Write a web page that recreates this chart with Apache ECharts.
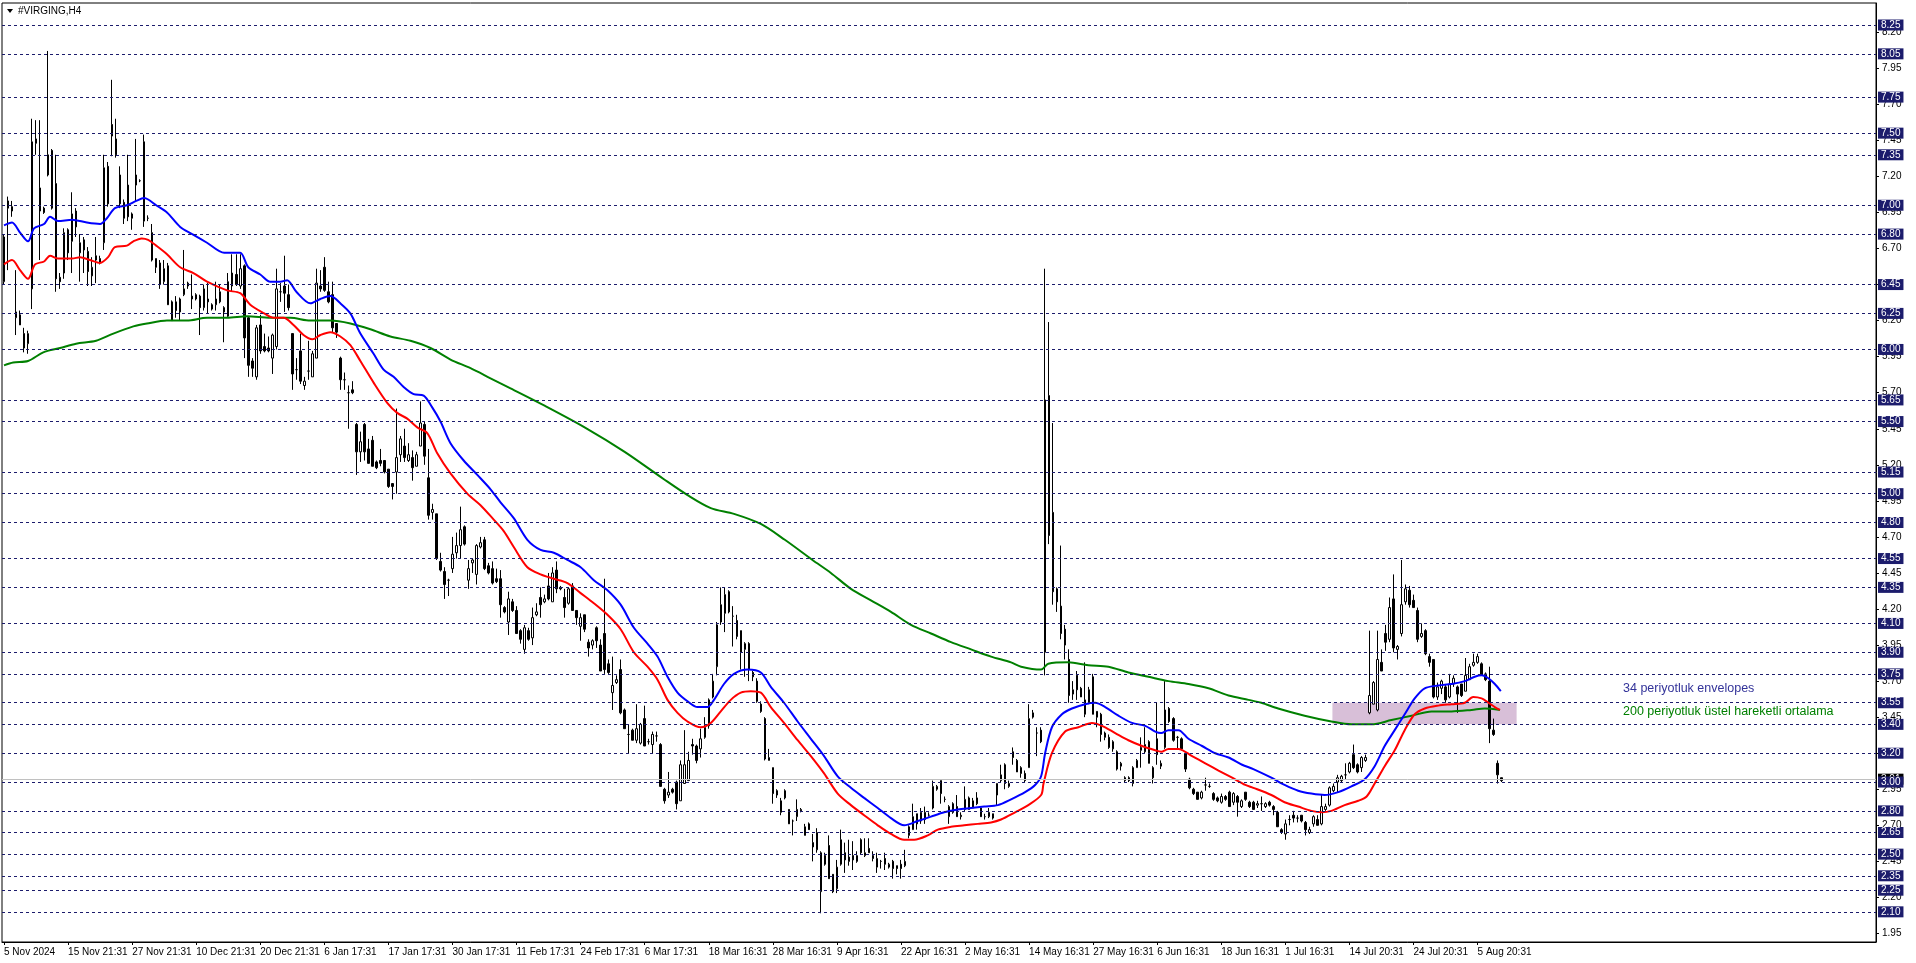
<!DOCTYPE html>
<html><head><meta charset="utf-8">
<script src="https://cdn.jsdelivr.net/npm/echarts@6/dist/echarts.min.js"></script>
<style>html,body{margin:0;padding:0;background:#fff}#c{width:1916px;height:963px}</style>
</head><body><div id="c"></div>
<script>
// ---------- DATA ----------
const title = '#VIRGING,H4';
const tickLabels = ['5 Nov 2024','15 Nov 21:31','27 Nov 21:31','10 Dec 21:31','20 Dec 21:31','6 Jan 17:31','17 Jan 17:31','30 Jan 17:31','11 Feb 17:31','24 Feb 17:31','6 Mar 17:31','18 Mar 16:31','28 Mar 16:31','9 Apr 16:31','22 Apr 16:31','2 May 16:31','14 May 16:31','27 May 16:31','6 Jun 16:31','18 Jun 16:31','1 Jul 16:31','14 Jul 20:31','24 Jul 20:31','5 Aug 20:31'];
const barsPerLabel = 16;
// [open, close, low, high]
const candles = [
[6.47,6.78,6.45,6.80],[7.03,6.98,6.55,7.06],[6.99,6.96,6.92,7.03],[6.22,6.26,6.10,6.55],[6.24,6.17,6.17,6.27],
[6.11,6.01,5.98,6.15],[6.04,6.11,5.97,6.13],[6.42,7.44,6.28,7.60],[7.46,7.43,7.35,7.59],[7.12,6.96,6.62,7.59],
[6.98,6.95,6.94,6.99],[7.21,7.35,7.20,8.07],[7.38,6.98,6.97,7.39],[7.15,6.49,6.40,7.35],[6.50,6.47,6.42,6.53],
[6.53,6.81,6.49,6.84],[6.83,6.67,6.62,6.84],[6.75,6.94,6.53,7.09],[6.96,6.85,6.78,6.98],[6.67,6.74,6.47,6.80],
[6.76,6.69,6.53,6.78],[6.68,6.54,6.44,6.71],[6.51,6.57,6.44,6.64],[6.62,6.65,6.46,6.78],[6.63,6.60,6.59,6.65],
[6.74,7.26,6.69,7.35],[7.27,7.01,6.99,7.30],[7.56,7.48,7.34,7.87],[7.46,7.35,7.33,7.60],[7.21,7.01,6.98,7.27],
[7.02,6.91,6.87,7.04],[7.14,6.92,6.89,7.35],[6.94,6.91,6.83,6.95],[7.14,7.21,7.03,7.46],[7.17,7.17,7.16,7.18],
[7.44,6.89,6.85,7.49],[6.91,6.91,6.89,6.93],[6.81,6.62,6.61,6.87],[6.63,6.57,6.53,6.63],[6.60,6.45,6.42,6.62],
[6.47,6.56,6.45,6.62],[6.58,6.31,6.31,6.60],[6.33,6.20,6.20,6.34],[6.33,6.27,6.22,6.37],[6.26,6.35,6.20,6.36],
[6.38,6.42,6.37,6.69],[6.44,6.46,6.42,6.47],[6.37,6.35,6.28,6.52],[6.35,6.38,6.34,6.39],[6.37,6.29,6.10,6.38],
[6.29,6.42,6.27,6.45],[6.35,6.33,6.25,6.46],[6.31,6.28,6.27,6.32],[6.31,6.35,6.27,6.47],[6.33,6.40,6.32,6.45],
[6.29,6.26,6.05,6.30],[6.23,6.47,6.22,6.53],[6.44,6.53,6.40,6.66],[6.52,6.45,6.44,6.66],[6.44,6.56,6.42,6.66],
[6.58,6.08,5.94,6.59],[6.22,5.89,5.81,6.23],[5.92,5.87,5.81,5.94],[5.81,6.15,5.79,6.17],[6.17,5.99,5.97,6.24],
[6.02,5.99,5.98,6.11],[6.01,5.99,5.98,6.09],[5.94,6.10,5.83,6.11],[6.02,6.42,6.00,6.56],[6.40,6.40,6.33,6.46],
[6.44,6.39,6.26,6.65],[6.38,6.29,6.27,6.45],[6.11,5.83,5.72,6.11],[5.86,5.86,5.79,5.94],[5.99,5.78,5.76,6.11],
[5.75,5.78,5.72,5.81],[5.85,5.85,5.79,6.06],[5.81,5.97,5.81,5.99],[5.94,6.46,5.94,6.56],[6.44,6.42,6.40,6.55],
[6.57,6.41,6.40,6.64],[6.40,6.33,6.32,6.47],[6.38,6.15,6.12,6.47],[6.18,6.12,6.08,6.18],[5.94,5.79,5.72,5.95],
[5.79,5.79,5.72,5.84],[5.70,5.70,5.45,5.75],[5.72,5.70,5.69,5.78],[5.48,5.29,5.13,5.49],[5.29,5.36,5.22,5.43],
[5.48,5.29,5.23,5.49],[5.31,5.21,5.21,5.38],[5.37,5.19,5.19,5.40],[5.22,5.18,5.17,5.23],[5.23,5.21,5.19,5.31],
[5.23,5.15,5.14,5.23],[5.17,5.05,5.04,5.17],[5.07,5.05,4.96,5.07],[5.15,5.25,5.00,5.59],[5.27,5.38,5.22,5.40],
[5.33,5.25,5.22,5.45],[5.23,5.27,5.22,5.35],[5.25,5.18,5.09,5.30],[5.19,5.27,5.19,5.29],[5.33,5.49,5.33,5.64],
[5.48,5.26,5.20,5.50],[5.11,4.85,4.82,5.31],[4.87,4.89,4.82,4.93],[4.86,4.55,4.54,4.86],[4.53,4.47,4.46,4.59],
[4.46,4.37,4.27,4.49],[4.40,4.40,4.29,4.41],[4.48,4.58,4.45,4.70],[4.59,4.64,4.55,4.73],[4.64,4.75,4.55,4.91],
[4.77,4.65,4.64,4.78],[4.40,4.48,4.34,4.54],[4.52,4.54,4.45,4.55],[4.44,4.64,4.37,4.65],[4.63,4.66,4.62,4.70],
[4.68,4.48,4.47,4.70],[4.50,4.45,4.44,4.52],[4.48,4.38,4.37,4.53],[4.41,4.39,4.38,4.48],[4.41,4.23,4.14,4.47],
[4.21,4.18,4.17,4.22],[4.11,4.27,4.02,4.32],[4.25,4.19,4.18,4.27],[4.19,4.03,4.03,4.22],[4.05,3.99,3.96,4.06],
[3.92,4.07,3.89,4.09],[4.05,3.99,3.98,4.07],[4.00,4.14,3.95,4.21],[4.16,4.18,4.15,4.24],[4.28,4.23,4.14,4.35],
[4.25,4.27,4.24,4.30],[4.36,4.27,4.26,4.45],[4.25,4.45,4.25,4.49],[4.47,4.34,4.31,4.53],[4.35,4.34,4.33,4.36],
[4.28,4.21,4.14,4.34],[4.24,4.34,4.23,4.35],[4.36,4.19,4.19,4.38],[4.19,4.14,4.09,4.19],[4.08,4.14,3.98,4.17],
[4.16,4.06,4.04,4.16],[3.97,3.93,3.87,3.99],[3.95,3.98,3.92,3.99],[4.07,3.98,3.93,4.08],[3.95,3.77,3.77,3.99],
[4.03,3.78,3.75,4.41],[3.82,3.76,3.75,3.85],[3.62,3.67,3.50,3.87],[3.69,3.71,3.68,3.74],[3.78,3.48,3.47,3.85],
[3.50,3.37,3.37,3.51],[3.33,3.33,3.20,3.40],[3.36,3.29,3.29,3.37],[3.29,3.37,3.27,3.54],[3.27,3.40,3.26,3.41],
[3.44,3.25,3.25,3.53],[3.28,3.28,3.26,3.30],[3.26,3.33,3.20,3.35],[3.32,3.32,3.28,3.35],[3.26,2.97,2.97,3.27],
[2.95,2.87,2.85,2.96],[2.91,2.93,2.89,3.07],[2.95,2.93,2.92,2.96],[3.00,2.85,2.81,3.01],[2.87,3.12,2.87,3.15],
[2.99,3.12,2.99,3.36],[3.01,3.15,3.01,3.21],[3.26,3.25,3.19,3.30],[3.25,3.15,3.13,3.26],[3.23,3.30,3.17,3.37],
[3.31,3.38,3.30,3.45],[3.39,3.57,3.37,3.58],[3.59,3.70,3.58,3.75],[3.80,4.09,3.74,4.11],[4.11,4.23,4.09,4.35],
[4.17,4.30,4.04,4.35],[4.32,4.18,4.17,4.33],[4.15,4.15,3.94,4.22],[4.12,4.01,3.99,4.16],[4.05,3.90,3.78,4.05],
[3.92,3.96,3.73,3.97],[3.96,3.78,3.70,3.97],[3.76,3.73,3.70,3.77],[3.70,3.56,3.55,3.72],[3.54,3.49,3.48,3.56],
[3.44,3.16,3.15,3.45],[3.15,3.17,3.15,3.23],[3.10,2.92,2.85,3.10],[2.94,2.91,2.89,2.95],[2.79,2.87,2.77,2.89],
[2.89,2.94,2.88,2.95],[2.81,2.71,2.71,2.81],[2.73,2.73,2.63,2.74],[2.76,2.81,2.73,2.88],[2.80,2.81,2.79,2.82],
[2.63,2.69,2.63,2.71],[2.71,2.67,2.67,2.72],[2.58,2.55,2.45,2.64],[2.53,2.65,2.51,2.68],[2.24,2.51,2.09,2.52],
[2.49,2.43,2.42,2.51],[2.56,2.33,2.33,2.63],[2.36,2.24,2.23,2.36],[2.26,2.41,2.23,2.46],[2.43,2.60,2.42,2.67],
[2.51,2.46,2.37,2.58],[2.48,2.45,2.42,2.60],[2.49,2.46,2.39,2.59],[2.45,2.49,2.44,2.52],[2.60,2.51,2.50,2.61],
[2.49,2.51,2.48,2.61],[2.54,2.51,2.51,2.61],[2.49,2.47,2.45,2.52],[2.41,2.47,2.37,2.51],[2.45,2.45,2.40,2.46],
[2.47,2.43,2.39,2.51],[2.41,2.43,2.40,2.44],[2.45,2.40,2.33,2.46],[2.42,2.40,2.36,2.42],[2.43,2.40,2.33,2.46],
[2.42,2.45,2.41,2.53],[2.63,2.69,2.61,2.70],[2.67,2.76,2.67,2.85],[2.78,2.71,2.67,2.78],[2.73,2.79,2.71,2.82],
[2.74,2.79,2.71,2.83],[2.77,2.77,2.76,2.79],[2.82,2.97,2.81,3.01],[2.95,2.97,2.94,2.98],[3.01,2.92,2.85,3.01],
[2.88,2.88,2.86,2.90],[2.76,2.83,2.71,2.84],[2.85,2.79,2.78,2.86],[2.83,2.76,2.76,2.91],[2.76,2.77,2.74,2.79],
[2.81,2.88,2.80,2.97],[2.89,2.81,2.81,2.90],[2.82,2.87,2.82,2.89],[2.89,2.85,2.84,2.93],[2.82,2.76,2.76,2.82],
[2.76,2.76,2.74,2.78],[2.76,2.79,2.75,2.82],[2.78,2.75,2.74,2.78],[2.91,2.99,2.84,2.99],[3.01,3.05,3.00,3.12],
[3.12,2.99,2.95,3.13],[2.97,2.99,2.96,3.01],[3.21,3.17,3.12,3.24],[3.15,3.07,3.07,3.16],[3.10,3.06,3.03,3.11],
[3.06,3.01,3.00,3.08],[3.10,3.44,3.10,3.54],[3.45,3.48,3.44,3.50],[3.34,3.34,3.18,3.38],[3.36,3.28,3.27,3.38],
[3.90,5.65,3.74,6.56],[5.68,4.71,4.65,6.19],[4.87,4.32,4.23,5.49],[4.34,4.25,4.18,4.35],[4.22,4.03,3.99,4.64],
[4.06,3.95,3.85,4.09],[3.85,3.60,3.55,3.92],[3.61,3.64,3.57,3.70],[3.74,3.64,3.57,3.77],[3.65,3.59,3.59,3.66],
[3.47,3.57,3.45,3.83],[3.55,3.64,3.54,3.66],[3.73,3.47,3.47,3.75],[3.49,3.45,3.38,3.49],[3.47,3.33,3.28,3.48],
[3.31,3.34,3.29,3.35],[3.31,3.24,3.23,3.33],[3.23,3.28,3.21,3.29],[3.21,3.09,3.08,3.22],[3.11,3.13,3.08,3.14],
[3.03,3.01,3.00,3.04],[3.03,3.01,3.00,3.04],[2.99,3.10,2.97,3.11],[3.10,3.15,3.10,3.16],[3.22,3.24,3.10,3.31],
[3.21,3.26,3.20,3.38],[3.28,3.13,3.13,3.29],[3.10,3.03,2.99,3.11],[3.30,3.19,3.12,3.55],[3.11,3.13,3.09,3.15],
[3.24,3.50,3.23,3.70],[3.51,3.42,3.41,3.52],[3.44,3.29,3.28,3.45],[3.31,3.31,3.23,3.32],[3.30,3.23,3.22,3.31],
[3.20,3.09,3.07,3.21],[3.02,2.96,2.95,3.03],[2.95,2.92,2.91,2.96],[2.93,2.88,2.88,2.93],[2.89,2.93,2.88,2.94],
[2.98,2.98,2.94,3.03],[2.97,2.97,2.96,2.99],[2.92,2.88,2.87,2.93],[2.89,2.87,2.86,2.90],[2.86,2.90,2.85,2.92],
[2.90,2.88,2.87,2.91],[2.93,2.83,2.83,2.94],[2.86,2.92,2.84,2.93],[2.90,2.86,2.76,2.91],[2.83,2.87,2.82,2.88],
[2.93,2.88,2.87,2.93],[2.86,2.83,2.82,2.87],[2.86,2.81,2.81,2.87],[2.84,2.85,2.82,2.87],[2.85,2.85,2.80,2.90],
[2.83,2.85,2.82,2.86],[2.86,2.84,2.83,2.87],[2.83,2.81,2.77,2.84],[2.79,2.69,2.69,2.80],[2.67,2.65,2.64,2.68],
[2.64,2.71,2.60,2.74],[2.74,2.74,2.70,2.77],[2.77,2.75,2.72,2.80],[2.75,2.75,2.72,2.77],[2.77,2.73,2.72,2.77],
[2.72,2.67,2.63,2.73],[2.65,2.67,2.64,2.69],[2.71,2.76,2.69,2.77],[2.74,2.70,2.70,2.77],[2.71,2.83,2.70,2.91],
[2.81,2.83,2.80,2.85],[2.84,2.96,2.83,2.97],[2.94,2.97,2.93,2.99],[3.00,3.03,2.93,3.05],[3.01,3.04,3.00,3.05],
[3.05,3.05,3.02,3.13],[3.07,3.13,3.06,3.14],[3.19,3.10,3.09,3.26],[3.12,3.07,3.06,3.13],[3.10,3.17,3.07,3.18],
[3.15,3.17,3.14,3.19],[3.48,3.60,3.47,4.05],[3.54,3.69,3.54,3.70],[3.50,3.85,3.49,4.05],[3.83,3.77,3.77,3.92],
[4.03,3.97,3.91,4.09],[3.99,4.21,3.97,4.28],[4.27,3.93,3.90,4.44],[3.92,3.94,3.85,3.95],[4.03,4.23,4.01,4.54],
[4.25,4.34,4.23,4.37],[4.33,4.23,4.21,4.36],[4.26,4.21,4.21,4.30],[4.19,3.99,3.97,4.21],[4.01,4.03,4.00,4.10],
[4.05,3.89,3.88,4.06],[3.87,3.83,3.80,3.89],[3.85,3.59,3.58,3.85],[3.59,3.66,3.57,3.69],[3.65,3.70,3.61,3.71],
[3.66,3.57,3.55,3.68],[3.59,3.68,3.58,3.75],[3.68,3.72,3.66,3.74],[3.66,3.61,3.48,3.67],[3.68,3.60,3.59,3.68],
[3.63,3.74,3.63,3.86],[3.71,3.80,3.71,3.82],[3.81,3.83,3.80,3.89],[3.83,3.87,3.82,3.89],[3.82,3.74,3.74,3.83],
[3.75,3.71,3.70,3.76],[3.70,3.37,3.27,3.80],[3.36,3.33,3.32,3.44],[3.13,3.05,2.99,3.15],[3.03,3.01,3.00,3.03]
];
// moving-average lines: [bar, value]
const envUpper = [[0,6.86],[2,6.88],[4,6.81],[6,6.75],[7.5,6.84],[10,6.87],[11.5,6.92],[13.5,6.89],[17,6.90],[20.7,6.88],[24,6.87],[25.7,6.91],[27.7,6.98],[30.7,7.00],[33,7.03],[35,7.05],[36,7.04],[38,7.00],[40.7,6.95],[44,6.85],[47,6.80],[50.7,6.74],[55,6.67],[57,6.67],[59,6.67],[61,6.57],[64,6.52],[66.5,6.47],[69,6.47],[70.7,6.48],[73,6.40],[76.5,6.32],[79,6.35],[81.5,6.37],[84,6.32],[86.5,6.25],[89,6.11],[92.3,5.97],[94.8,5.86],[97.3,5.81],[99.8,5.74],[102.3,5.69],[104.8,5.68],[106.9,5.60],[109,5.50],[111.5,5.35],[114.8,5.23],[118.2,5.13],[121.5,5.03],[124,4.94],[127.3,4.83],[130.7,4.68],[134,4.61],[137.3,4.59],[140.7,4.54],[144,4.49],[147.3,4.40],[150.7,4.33],[154,4.23],[157.3,4.07],[160.7,3.96],[163.2,3.87],[165.7,3.73],[168.2,3.62],[170.7,3.56],[173.2,3.52],[175.7,3.52],[177.3,3.57],[179.8,3.68],[182.3,3.75],[185.7,3.78],[189,3.76],[191.5,3.66],[194.8,3.55],[198.2,3.42],[201.5,3.30],[204.8,3.18],[208.2,3.04],[211.5,2.96],[214.8,2.89],[218.2,2.82],[221.5,2.75],[224.8,2.70],[228.2,2.73],[231.5,2.76],[234.8,2.79],[238.2,2.81],[241.5,2.82],[244.8,2.83],[248.2,2.84],[251.5,2.88],[255,2.93],[257.5,2.98],[259,3.04],[260,3.20],[261.7,3.38],[264.2,3.47],[266.7,3.51],[270,3.54],[272.5,3.55],[275,3.52],[278.3,3.46],[281.7,3.41],[285,3.39],[287.5,3.35],[289,3.34],[290.8,3.36],[293.3,3.36],[295.8,3.30],[299.2,3.25],[302.5,3.20],[305.8,3.17],[309.2,3.12],[312,3.09],[316.5,3.03],[319.8,2.98],[323.2,2.94],[326.5,2.92],[329.8,2.91],[333.2,2.93],[336.5,2.97],[339.8,3.02],[342.3,3.11],[344.8,3.25],[347.3,3.36],[349.8,3.47],[352.3,3.58],[354.8,3.65],[358.2,3.67],[361.5,3.68],[364.8,3.70],[367.3,3.73],[369,3.74],[370.7,3.72],[372.3,3.68],[373.8,3.63]];
const envLower = [[0,6.59],[2,6.62],[4,6.55],[6,6.49],[7.75,6.59],[10,6.61],[11.5,6.65],[13.5,6.63],[17,6.63],[19,6.64],[21.5,6.62],[24,6.60],[26,6.64],[27.7,6.71],[30.7,6.72],[32.3,6.75],[34.4,6.77],[36,6.76],[38,6.72],[40.7,6.66],[44,6.57],[47.3,6.53],[50.7,6.47],[55.7,6.41],[59,6.39],[61.5,6.31],[65,6.25],[67.3,6.22],[69.8,6.22],[72.3,6.17],[74.8,6.10],[77,6.07],[79,6.10],[81.5,6.12],[84,6.09],[86.5,6.03],[89,5.92],[92.3,5.77],[95.7,5.63],[98.2,5.56],[100.7,5.52],[103.2,5.46],[105.7,5.42],[108.2,5.28],[111.5,5.14],[115.7,5.00],[119,4.92],[122.3,4.82],[124.8,4.74],[127.3,4.63],[130.7,4.49],[134,4.44],[137.3,4.41],[140.7,4.38],[144,4.31],[147.3,4.24],[150.7,4.16],[154,4.06],[157.3,3.90],[160.7,3.80],[163.2,3.71],[165.7,3.57],[168.2,3.48],[170.7,3.42],[174,3.38],[176.5,3.41],[179,3.49],[181.5,3.57],[184,3.62],[186.5,3.63],[189,3.62],[191.5,3.52],[194.8,3.41],[198.2,3.29],[201.5,3.18],[204.8,3.06],[208.2,2.92],[211.5,2.84],[214.8,2.77],[218.2,2.70],[221.5,2.64],[224.8,2.60],[227.3,2.60],[230.7,2.63],[233.2,2.67],[236.5,2.69],[239.8,2.70],[243.2,2.71],[246.5,2.72],[249,2.74],[252.5,2.79],[255.8,2.84],[259,2.91],[259.6,2.99],[261.7,3.20],[265,3.35],[268.3,3.38],[271.7,3.41],[274.2,3.39],[277.5,3.34],[280.8,3.29],[284.2,3.25],[287.5,3.22],[289,3.21],[290.8,3.23],[293.3,3.23],[296.7,3.18],[300,3.13],[303.3,3.08],[306.7,3.03],[310,2.98],[312,2.96],[316.5,2.91],[319.8,2.86],[323.2,2.83],[326.5,2.80],[329,2.79],[331.5,2.80],[334.8,2.84],[338.2,2.87],[340.3,2.90],[342.3,2.99],[344.8,3.11],[347.3,3.22],[349.8,3.36],[352.3,3.47],[354.8,3.51],[358.2,3.53],[361.5,3.54],[364.8,3.55],[366.9,3.59],[369,3.58],[370.7,3.55],[372.3,3.52],[373.6,3.50]];
const ema200 = [[0,5.89],[2.3,5.91],[6,5.92],[9.8,5.98],[14,6.01],[18,6.04],[23,6.06],[27.3,6.11],[32.3,6.16],[35.7,6.18],[40.7,6.20],[45.7,6.20],[50.7,6.22],[55.7,6.22],[60.7,6.23],[66.5,6.22],[71.5,6.22],[76.5,6.20],[81.5,6.20],[86.5,6.18],[91.5,6.14],[96.5,6.09],[101.5,6.06],[106.5,6.01],[111.5,5.93],[116.5,5.87],[121.5,5.80],[126.5,5.73],[135,5.61],[145,5.46],[155,5.29],[164.8,5.10],[170.7,4.99],[176.5,4.90],[182.3,4.86],[189,4.79],[195,4.68],[201.9,4.54],[206.5,4.45],[211.5,4.34],[216.5,4.26],[221.5,4.18],[226.5,4.09],[231.5,4.03],[236.5,3.97],[241.5,3.92],[246.5,3.87],[251.5,3.83],[254,3.80],[259,3.78],[260.8,3.82],[265.8,3.83],[270.8,3.81],[275.8,3.80],[280.8,3.76],[285.8,3.73],[290.8,3.70],[295.8,3.68],[300.8,3.65],[305.8,3.60],[310.8,3.57],[314,3.55],[318.2,3.51],[324.8,3.46],[331.5,3.42],[336.5,3.40],[341.5,3.40],[346.5,3.43],[351.5,3.46],[356.5,3.49],[361.5,3.49],[366.5,3.50],[369.8,3.51],[373.6,3.50]];
const levels = [8.25,8.05,7.75,7.50,7.35,7.00,6.80,6.45,6.25,6.00,5.65,5.50,5.15,5.00,4.80,4.55,4.35,4.10,3.90,3.75,3.55,3.40,3.20,3.00,2.80,2.65,2.50,2.35,2.25,2.10];
const priceTicks = [1.95,2.20,2.45,2.70,2.95,3.20,3.45,3.70,3.95,4.20,4.45,4.70,4.95,5.20,5.45,5.70,5.95,6.20,6.45,6.70,6.95,7.20,7.45,7.70,7.95,8.20];
const bidPrice = 3.015;
const zoneBars = [331.75, 377.75];
const zonePrices = [3.40, 3.55];
const notes = ['34 periyotluk envelopes', '200 periyotluk üstel hareketli ortalama'];

// ---------- LAYOUT ----------
const SLOTS = 468, Y_MIN = 1.8908, Y_MAX = 8.4026;
const FONT = "'Liberation Sans', Arial, sans-serif";
const NAVY = '#1c1c6c';
const cats = Array.from({length: SLOTS}, (_, i) => String(i));
const showTick = (i) => i % barsPerLabel === 0 && i / barsPerLabel < tickLabels.length;

const chart = echarts.init(document.getElementById('c'), null, {renderer: 'canvas'});
const levelLines = [{yAxis: bidPrice, lineStyle: {color: '#c0c0c0', type: 'solid', width: 1},
  label: {backgroundColor: '#000', color: '#fff', formatter: '3.01'}}]
  .concat(levels.map(v => ({yAxis: v})));

chart.setOption({
  animation: false,
  textStyle: {fontFamily: FONT},
  grid: {left: 2, right: 40, top: 3, bottom: 21, show: true, borderColor: '#000', borderWidth: 1, backgroundColor: '#fff'},
  xAxis: [{
    type: 'category', data: cats, boundaryGap: true,
    axisLine: {show: true, onZero: false, lineStyle: {color: '#000'}},
    axisTick: {show: true, length: 3, alignWithLabel: true, interval: (i) => showTick(i), lineStyle: {color: '#000'}},
    axisLabel: {show: true, interval: (i) => showTick(i), formatter: (v, i) => tickLabels[i / barsPerLabel] || '',
      align: 'left', color: '#000', fontSize: 10, margin: 5, fontFamily: FONT},
    splitLine: {show: false}
  }, {
    type: 'value', min: -0.5, max: SLOTS - 0.5, show: false,
    axisLine: {show: false, onZero: false}, axisTick: {show: false}, axisLabel: {show: false}, splitLine: {show: false}
  }],
  yAxis: {
    type: 'value', position: 'right', min: Y_MIN, max: Y_MAX,
    axisLine: {show: true, onZero: false, lineStyle: {color: '#000'}},
    axisTick: {show: true, length: 3, customValues: priceTicks, lineStyle: {color: '#000'}},
    axisLabel: {show: true, customValues: priceTicks, formatter: (v) => v.toFixed(2), color: '#000', fontSize: 10, margin: 6, fontFamily: FONT},
    splitLine: {show: false}
  },
  series: [
    {
      type: 'line', xAxisIndex: 1, data: [], z: 1, silent: true,
      markArea: {silent: true, itemStyle: {color: '#d8bfd8', opacity: 1},
        data: [[{xAxis: zoneBars[0], yAxis: zonePrices[1]}, {xAxis: zoneBars[1], yAxis: zonePrices[0]}]]}
    },
    {
      type: 'candlestick', xAxisIndex: 0, data: candles.map(c => [c[0], c[1], c[2], c[3]]), z: 3,
      barWidth: 2, silent: true,
      itemStyle: {color: '#ffffff', color0: '#000000', borderColor: '#000000', borderColor0: '#000000', borderWidth: 1},
      markLine: {
        silent: true, symbol: ['none', 'none'], animation: false,
        lineStyle: {color: NAVY, width: 1, type: [3, 3]},
        label: {show: true, position: 'end', distance: 2, formatter: (p) => Number(p.value).toFixed(2),
          backgroundColor: NAVY, color: '#fff', fontSize: 10, padding: [1, 3, 0, 3], fontFamily: FONT},
        data: levelLines
      }
    },
    {type: 'line', xAxisIndex: 1, data: ema200, symbol: 'none', smooth: 0.3, z: 4, silent: true, lineStyle: {color: '#008000', width: 2}},
    {type: 'line', xAxisIndex: 1, data: envLower, symbol: 'none', smooth: 0.3, z: 4, silent: true, lineStyle: {color: '#ff0000', width: 2}},
    {type: 'line', xAxisIndex: 1, data: envUpper, symbol: 'none', smooth: 0.3, z: 4, silent: true, lineStyle: {color: '#0000ff', width: 2}}
  ],
  graphic: [
    {type: 'polygon', shape: {points: [[7, 9], [13, 9], [10, 13]]}, style: {fill: '#000'}, z: 10},
    {type: 'text', x: 18, y: 11, style: {text: title, fill: '#000', font: '10px ' + FONT, textVerticalAlign: 'middle'}, z: 10},
    {type: 'text', x: 1623, y: 689, style: {text: notes[0], fill: '#333399', font: '12.5px ' + FONT, textVerticalAlign: 'middle'}, z: 10},
    {type: 'text', x: 1623, y: 712, style: {text: notes[1], fill: '#008000', font: '12.5px ' + FONT, textVerticalAlign: 'middle'}, z: 10}
  ]
});
</script></body></html>
